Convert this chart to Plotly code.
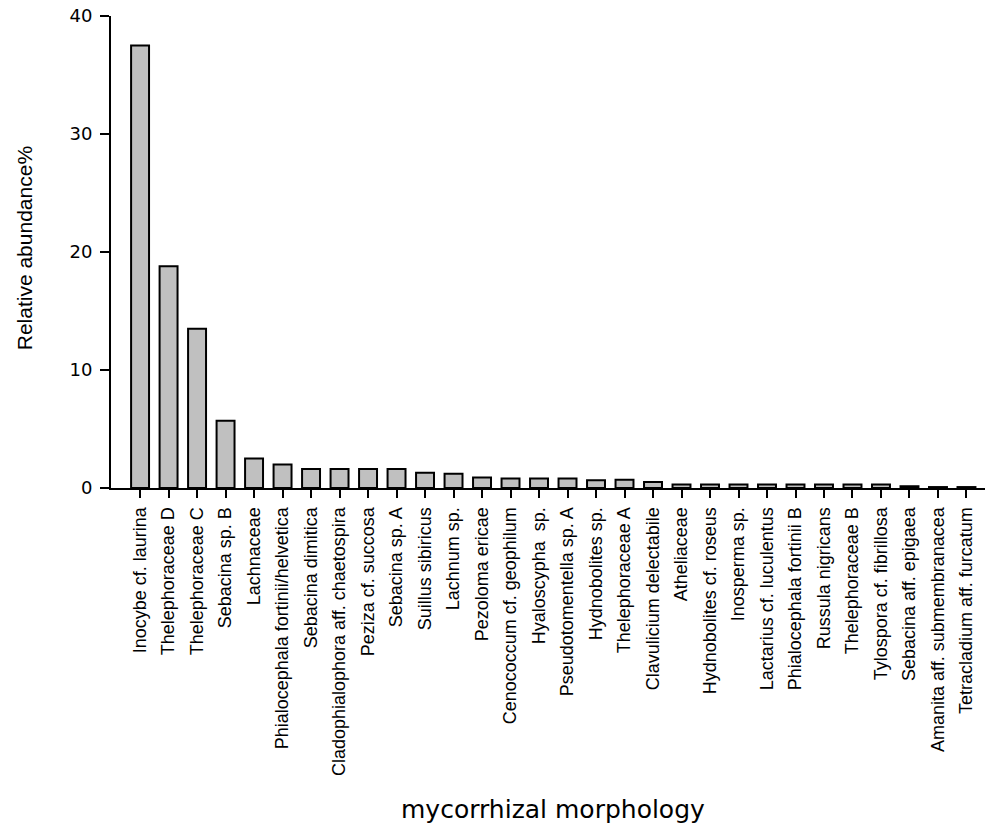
import plotly.graph_objects as go

# Mycorrhizal morphotypes, ordered by relative abundance
morphotypes = [
    "Inocybe cf. laurina", "Thelephoraceae D", "Thelephoraceae C", "Sebacina sp. B",
    "Lachnaceae", "Phialocephala fortinii/helvetica", "Sebacina dimitica",
    "Cladophialophora aff. chaetospira", "Peziza cf. succosa", "Sebacina sp. A",
    "Suillus sibiricus", "Lachnum sp.", "Pezoloma ericae", "Cenococcum cf. geophilum",
    "Hyaloscypha  sp.", "Pseudotomentella sp. A", "Hydnobolites sp.", "Thelephoraceae A",
    "Clavulicium delectabile", "Atheliaceae", "Hydnobolites cf. roseus", "Inosperma sp.",
    "Lactarius cf. luculentus", "Phialocephala fortinii B", "Russula nigricans",
    "Thelephoraceae B", "Tylospora cf. fibrillosa", "Sebacina aff. epigaea",
    "Amanita aff. submembranacea", "Tetracladium aff. furcatum",
]
abundance = [
    37.5, 18.8, 13.5, 5.7,
    2.5, 2.0, 1.6,
    1.6, 1.6, 1.6,
    1.3, 1.2, 0.9, 0.8,
    0.8, 0.8, 0.65, 0.7,
    0.5, 0.3, 0.3, 0.3,
    0.3, 0.3, 0.3,
    0.3, 0.3, 0.15,
    0.08, 0.08,
]
y_ticks = [0, 10, 20, 30, 40]

fig = go.Figure(
    go.Bar(
        x=list(range(len(morphotypes))),
        y=abundance,
        width=0.63,
        marker=dict(color="#c0c0c0", line=dict(color="black", width=2)),
    )
)

fig.update_layout(
    width=990, height=828,
    margin=dict(l=111, r=5, t=16, b=340),
    paper_bgcolor="white", plot_bgcolor="white",
    showlegend=False,
    font=dict(family="Liberation Sans, Arial, sans-serif", color="black"),
)

fig.update_xaxes(
    range=[-1.02, 29.65],
    tickmode="array",
    tickvals=list(range(len(morphotypes))),
    ticktext=morphotypes,
    tickangle=-90,
    tickfont=dict(size=18, family="Liberation Sans, Arial, sans-serif"),
    ticks="outside", ticklen=8, tickwidth=2, tickcolor="black",
    ticklabelstandoff=2,
    showline=True, linecolor="black", linewidth=2,
    showgrid=False, zeroline=False,
)

fig.update_yaxes(
    range=[0, 40],
    tickmode="array",
    tickvals=y_ticks,
    tickfont=dict(size=18, family="DejaVu Sans, sans-serif"),
    ticks="outside", ticklen=9, tickwidth=2, tickcolor="black",
    ticklabelstandoff=4,
    showline=True, linecolor="black", linewidth=2,
    showgrid=False, zeroline=False,
)

fig.add_annotation(
    text="Relative abundance%", textangle=-90,
    xref="paper", yref="paper", x=-0.0995, y=0.508,
    xanchor="center", yanchor="middle", showarrow=False,
    font=dict(size=21, family="Liberation Sans, Arial, sans-serif"),
)
fig.add_annotation(
    text="mycorrhizal morphology",
    xref="paper", yref="paper", x=0.506, y=-0.682,
    xanchor="center", yanchor="middle", showarrow=False,
    font=dict(size=25, family="DejaVu Sans, sans-serif"),
)

fig.write_html("out.html")
